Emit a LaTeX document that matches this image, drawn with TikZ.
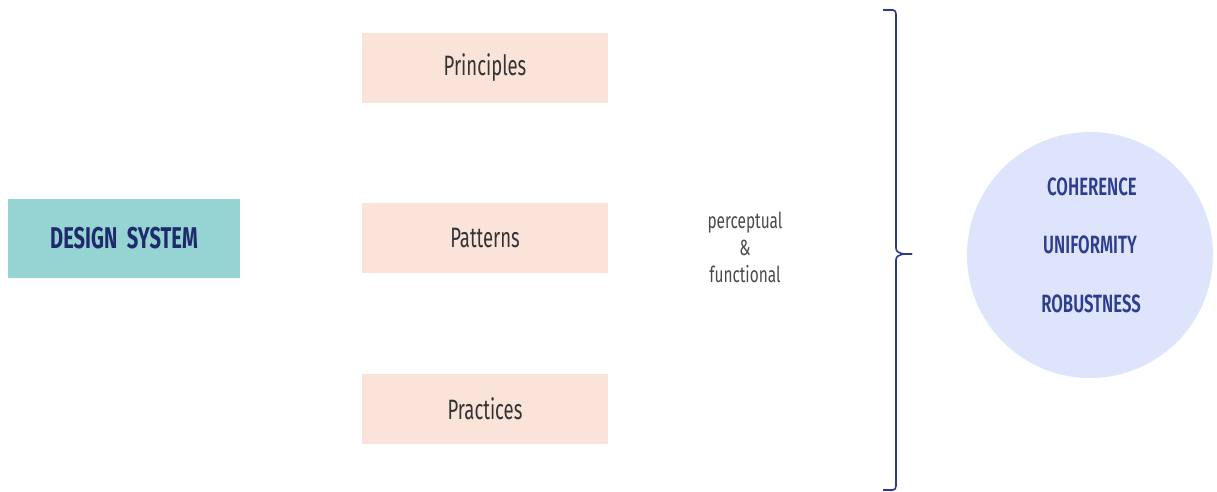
\documentclass[tikz,border=0pt]{standalone}
\usepackage{fontspec}
\newfontfamily\agencyp[FakeStretch=0.66]{Fira Sans}
\newfontfamily\agencyn[FakeStretch=0.70]{Fira Sans}
\newfontfamily\agencyb[FakeStretch=0.67]{Fira Sans Bold}
\newfontfamily\agencyc[FakeStretch=0.67]{Fira Sans SemiBold}
\definecolor{teal1}{HTML}{96D4D4}
\definecolor{peach}{HTML}{FAE3D8}
\definecolor{navy}{HTML}{1F2A6B}
\definecolor{bracec}{HTML}{2E3A87}
\definecolor{circf}{HTML}{DEE4FC}
\definecolor{circt}{HTML}{2E3E8F}
\definecolor{graytxt}{HTML}{4A4A4A}
\begin{document}
\begin{tikzpicture}[x=1pt,y=-1pt,
  pbox/.style={fill=peach,draw=none,minimum width=246pt,minimum height=70pt,inner sep=0pt,font=\agencyp\fontsize{28}{32}\selectfont,text=graytxt!70!black},
  dsbox/.style={fill=teal1,draw=none,minimum width=232pt,minimum height=79pt,inner sep=0pt,font=\agencyb\fontsize{30}{34}\selectfont,text=navy},
  circtext/.style={font=\agencyc\fontsize{25}{28}\selectfont,text=circt,inner sep=0pt},
  note/.style={font=\agencyn\fontsize{22}{27}\selectfont,text=graytxt,align=center,inner sep=0pt},
  bracel/.style={draw=bracec,line width=1.6pt,line join=round}]
\useasboundingbox (0,0) rectangle (1217,492);
\node[dsbox] (ds) at (124,238.5) {DESIGN\ \ SYSTEM};
\node[pbox] (pr) at (485,68) {Principles};
\node[pbox] (pa) at (485,238) {Patterns};
\node[pbox] (pc) at (485,409) {Practices};
\node[note] (pf) at (745,247) {perceptual\\\&\\functional};
\coordinate (btop) at (883,10);
\coordinate (bbot) at (883,490);
\coordinate (btip) at (912,254);
\draw[bracel] (btop) -- (893,10) to[out=0,in=90] (896,14) -- (896,248) to[out=-90,in=180] (btip);
\draw[bracel] (bbot) -- (893,490) to[out=0,in=-90] (896,486) -- (896,260) to[out=90,in=180] (btip);
\node[circle,fill=circf,minimum size=246pt,inner sep=0pt] (circ) at (1090,255) {};
\node[circtext] (c1) at (1092,187) {COHERENCE};
\node[circtext] (c2) at (1090,245) {UNIFORMITY};
\node[circtext] (c3) at (1091,304) {ROBUSTNESS};
\end{tikzpicture}
\end{document}
